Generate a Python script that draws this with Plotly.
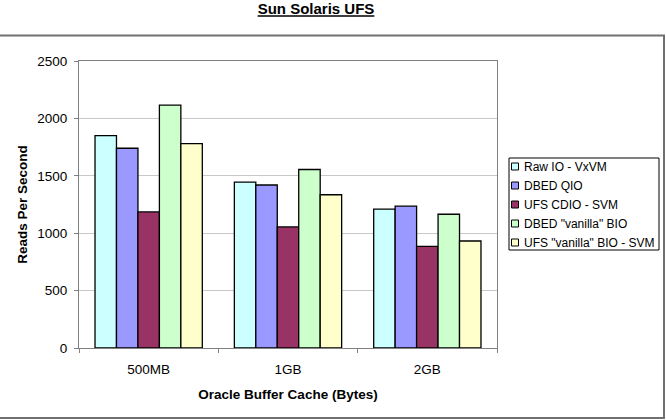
import plotly.graph_objects as go

categories = ["500MB", "1GB", "2GB"]
series_names = ["Raw IO - VxVM", "DBED QIO", "UFS CDIO - SVM", 'DBED "vanilla" BIO', 'UFS "vanilla" BIO - SVM']
series_colors = ["#CCFFFF", "#9999FF", "#993366", "#CCFFCC", "#FFFFCC"]
raw_io = [1850, 1445, 1210]
dbed_qio = [1740, 1420, 1235]
ufs_cdio = [1185, 1055, 885]
dbed_bio = [2115, 1555, 1165]
ufs_bio = [1780, 1335, 932]
series_values = [raw_io, dbed_qio, ufs_cdio, dbed_bio, ufs_bio]
y_ticks = [0, 500, 1000, 1500, 2000, 2500]

FONT = "Liberation Sans, Arial, sans-serif"

fig = go.Figure()
for name, color, vals in zip(series_names, series_colors, series_values):
    fig.add_trace(go.Bar(
        x=categories, y=vals, name=name, showlegend=False,
        marker=dict(color=color, line=dict(color="#000000", width=1.3)),
    ))

L, R, T, B = 79, 169, 61, 72
W, H = 666, 420
pw, ph = W - L - R, H - T - B

def px(x):
    return (x - L) / pw

def py(y):
    return (H - B - y) / ph

shapes = [dict(type="rect", xref="paper", yref="paper",
               x0=px(-5), x1=px(664), y0=py(418), y1=py(35.5),
               line=dict(color="#707070", width=2), layer="below")]
annotations = []

# custom legend (drawn from the series names / colours)
shapes.append(dict(type="rect", xref="paper", yref="paper",
                   x0=px(509), x1=px(659), y0=py(250), y1=py(158),
                   line=dict(color="#000000", width=1), fillcolor="white", layer="above"))
for i, (name, color) in enumerate(zip(series_names, series_colors)):
    cy = 166.5 + 19 * i
    shapes.append(dict(type="rect", xref="paper", yref="paper",
                       x0=px(511.5), x1=px(518.5), y0=py(cy + 3.5), y1=py(cy - 3.5),
                       line=dict(color="#000000", width=1), fillcolor=color, layer="above"))
    annotations.append(dict(text=name, xref="paper", yref="paper",
                            x=px(522), y=py(cy), xanchor="left", yanchor="middle",
                            showarrow=False,
                            font=dict(family=FONT, size=12, color="#000000")))

fig.update_layout(
    width=W, height=H,
    margin=dict(l=L, r=R, t=T, b=B, autoexpand=False),
    paper_bgcolor="white", plot_bgcolor="white",
    barmode="group", bargap=0.23, bargroupgap=0,
    font=dict(family=FONT, size=13.5, color="#000000"),
    title=dict(text="<b><u>Sun Solaris UFS</u></b>", x=px(316), xref="paper",
               xanchor="center", y=1 - 9 / H, yanchor="middle",
               font=dict(family=FONT, size=15, color="#000000")),
    showlegend=False,
    xaxis=dict(
        showline=True, linecolor="#808080", linewidth=1, mirror=True,
        ticks="outside", ticklen=4, tickcolor="#808080", tickson="boundaries",
        showgrid=False, ticklabelstandoff=9,
        tickfont=dict(family=FONT, size=13.5),
        title=dict(text="<b>Oracle Buffer Cache (Bytes)</b>", standoff=13,
                   font=dict(family=FONT, size=13.5)),
    ),
    yaxis=dict(
        range=[0, 2500], tickvals=y_ticks,
        showline=True, linecolor="#808080", linewidth=1, mirror=True,
        ticks="outside", ticklen=4, tickcolor="#808080",
        showgrid=True, gridcolor="#C8C8C8", gridwidth=1, zeroline=False,
        ticklabelstandoff=4,
        tickfont=dict(family=FONT, size=13.5),
        title=dict(text="<b>Reads Per Second</b>", standoff=6,
                   font=dict(family=FONT, size=13.5)),
    ),
    shapes=shapes,
    annotations=annotations,
)

fig.write_html("out.html")
